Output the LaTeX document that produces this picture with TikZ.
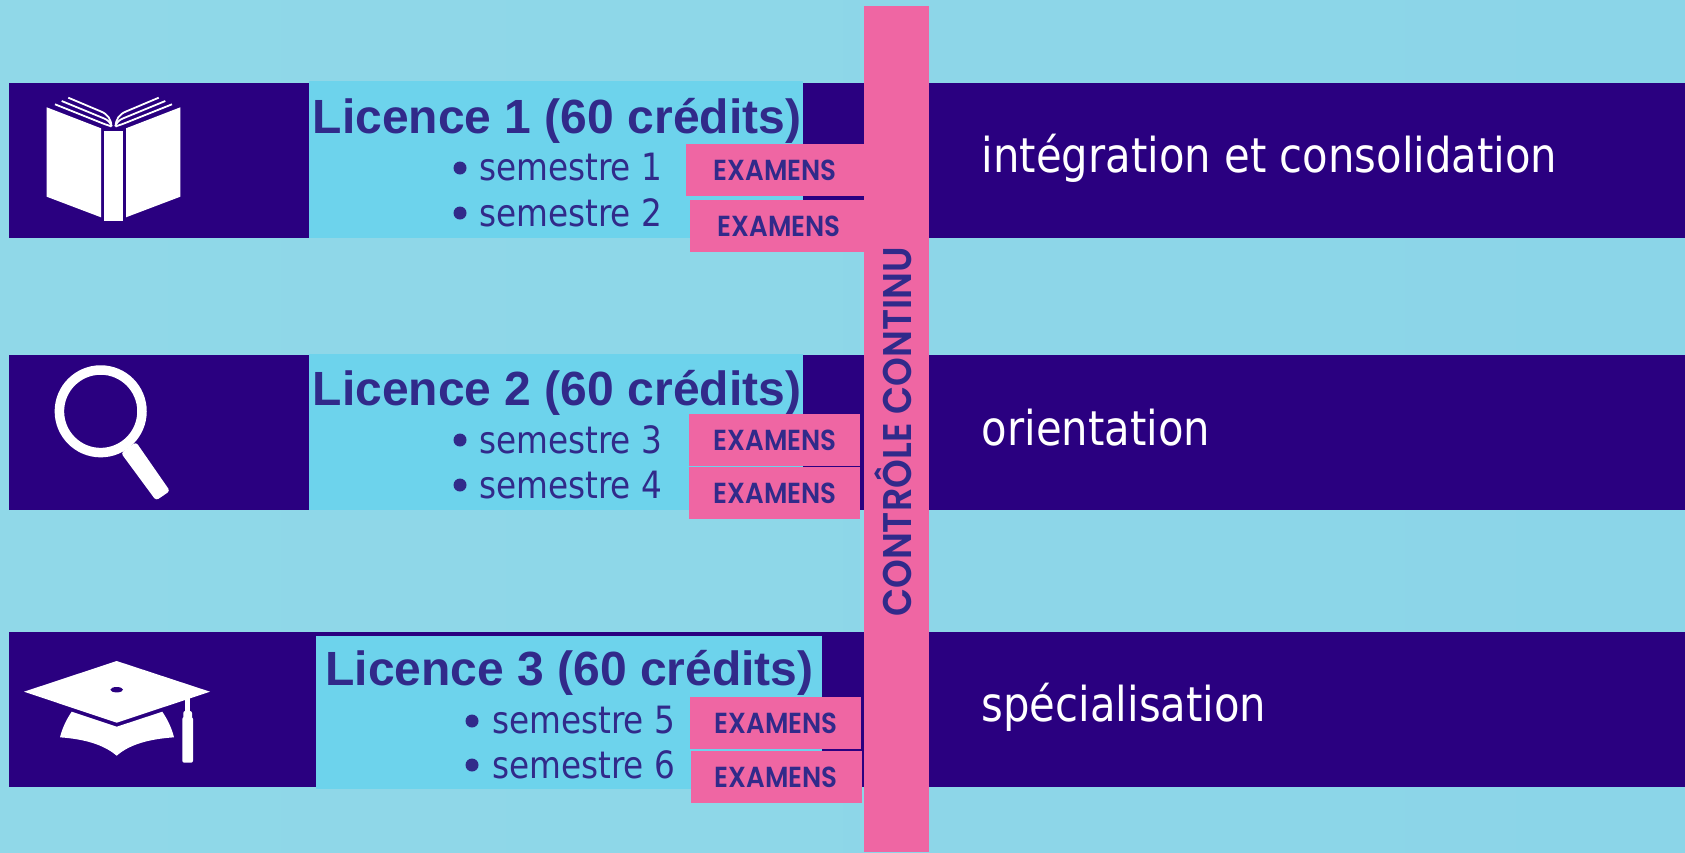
\documentclass[tikz,border=0pt]{standalone}
\usepackage{fontspec}
\setmainfont{Liberation Sans}
\newfontfamily\tah{DejaVu Sans}[FakeStretch=0.87]
\newfontfamily\fut{Poppins}[FakeStretch=0.90,BoldFont={Poppins SemiBold}]
\newfontfamily\futv{Poppins}[FakeStretch=0.915,BoldFont={Poppins SemiBold}]
\definecolor{bgl}{HTML}{90D8E8}
\definecolor{bgr}{HTML}{8BD5E8}
\definecolor{band}{HTML}{2A0080}
\definecolor{lite}{HTML}{6DD3EC}
\definecolor{pinkc}{HTML}{EF66A3}
\definecolor{ink}{HTML}{312A8A}
\tikzset{x=1pt,y=-1pt,
 bandbox/.style={fill=band,draw=none},
 litebox/.style={fill=lite,draw=none},
 pinkbox/.style={fill=pinkc,draw=none},
 examen/.style={text=ink,font=\fut\bfseries\fontsize{29}{29}\selectfont,inner sep=0pt,anchor=base},
 title/.style={text=ink,font=\bfseries\fontsize{48}{48}\selectfont,inner sep=0pt,anchor=base},
 sem/.style={text=ink,font=\tah\fontsize{37.6}{37.6}\selectfont,inner sep=0pt,anchor=base west},
 dotm/.style={circle,fill=ink,minimum size=13pt,inner sep=0pt},
 goal/.style={text=white,font=\tah\fontsize{48}{48}\selectfont,inner sep=0pt,anchor=base west},
 vert/.style={text=ink,font=\futv\bfseries\fontsize{40}{40}\selectfont,inner sep=0pt,anchor=base,rotate=90},
 icon/.style={fill=white,draw=none},
 pageline/.style={draw=white,line width=1.8pt,fill=none}
}
\begin{document}
\begin{tikzpicture}
\useasboundingbox (0,0) rectangle (1685,852);
\shade[left color=bgl,right color=bgr,shading angle=90] (0,0) rectangle (1685,852);
% bands
\path[bandbox] (9,83) rectangle (1685,238);
\path[bandbox] (9,355) rectangle (1685,510);
\path[bandbox] (9,632) rectangle (1685,787);
% light boxes
\path[litebox] (309,81) rectangle (803,238);
\path[litebox] (309,354) rectangle (803,510);
\path[litebox] (316,636) rectangle (822,789);
% titles
\node[title] (t1) at (557,133) {Licence 1 (60 crédits)};
\node[title] (t2) at (557,405) {Licence 2 (60 crédits)};
\node[title] (t3) at (569.5,685) {Licence 3 (60 crédits)};
% semesters
\node[sem] (s1) at (479,180.5) {semestre 1};
\node[sem] (s2) at (479,226) {semestre 2};
\node[sem] (s3) at (479,453) {semestre 3};
\node[sem] (s4) at (479,498) {semestre 4};
\node[sem] (s5) at (492,733) {semestre 5};
\node[sem] (s6) at (492,778) {semestre 6};
\foreach \n/\x/\y in {d1/460/168,d2/460/213,d3/460/440,d4/460/485,d5/472/721,d6/472/765}
  \node[dotm] (\n) at (\x,\y) {};
% examens
\path[pinkbox] (686,144) rectangle (864,196);
\path[pinkbox] (690,200) rectangle (864,252);
\path[pinkbox] (689,414) rectangle (860,466);
\path[pinkbox] (689,467) rectangle (860,519);
\path[pinkbox] (690,697) rectangle (861,749);
\path[pinkbox] (691,751) rectangle (862,803);
% pink column
\path[pinkbox] (864,6) rectangle (929,852);
\node[examen] (e1) at (775,180.5) {EXAMENS};
\node[examen] (e2) at (779,236.5) {EXAMENS};
\node[examen] (e3) at (775,450.5) {EXAMENS};
\node[examen] (e4) at (775,503) {EXAMENS};
\node[examen] (e5) at (776,733) {EXAMENS};
\node[examen] (e6) at (776,787.5) {EXAMENS};
\node[vert] (cc) at (911,432) {CONTRÔLE CONTINU};
% right-hand labels
\node[goal] (g1) at (981.5,172) {intégration et consolidation};
\node[goal] (g2) at (981.5,445) {orientation};
\node[goal] (g3) at (981.5,721) {spécialisation};
% book
\path[icon] (46.7,107.3)--(101,128.3)--(101,217.3)--(46.7,196.7)--cycle;
\path[icon] (180.3,107.3)--(126,128.3)--(126,217.3)--(180.3,196.7)--cycle;
\path[icon] (104.3,130.7) rectangle (123,221);
\foreach \m/\c in {1/0,-1/227}{
 \begin{scope}[xshift=\c pt,xscale=\m]
  \path[pageline] (55,104.3)--(103,123.5).. controls (107,125) and (109,125.5) .. (111.5,126.5);
  \path[pageline] (61.7,101)--(103,118).. controls (108,120) and (110,122) .. (111.5,126);
  \path[pageline] (68.3,97.7)--(101,111.5).. controls (108,114.5) and (111,119) .. (111.5,126.5);
 \end{scope}}
% magnifier
\draw[white,line width=9.5pt] (100.7,411.3) circle[radius=41.3pt];
\path[icon,rounded corners=3pt] (136,442)--(170,491)--(156,500.5)--(121,453)--cycle;
% cap
\path[icon] (24,691.7)--(116.7,661)--(210,691.7)--(116.7,722.7)--cycle;
\path[fill=band] (116.7,689.7) ellipse[x radius=6.3pt,y radius=2.7pt];
\path[icon] (71.7,711.7)--(116.7,726.7)--(162.3,711.7).. controls (168,720) and (172,729) .. (174,737.3).. controls (150,739) and (130,744) .. (116.7,755.7).. controls (103,744) and (83,739) .. (60,737.3).. controls (62,729) and (66,720) .. (71.7,711.7)--cycle;
\path[icon] (185.3,698) rectangle (190,711);
\path[icon,rounded corners=2pt] (183.3,711) rectangle (192,719);
\path[icon,rounded corners=2pt] (182.3,717) rectangle (193,762.7);
\end{tikzpicture}
\end{document}
